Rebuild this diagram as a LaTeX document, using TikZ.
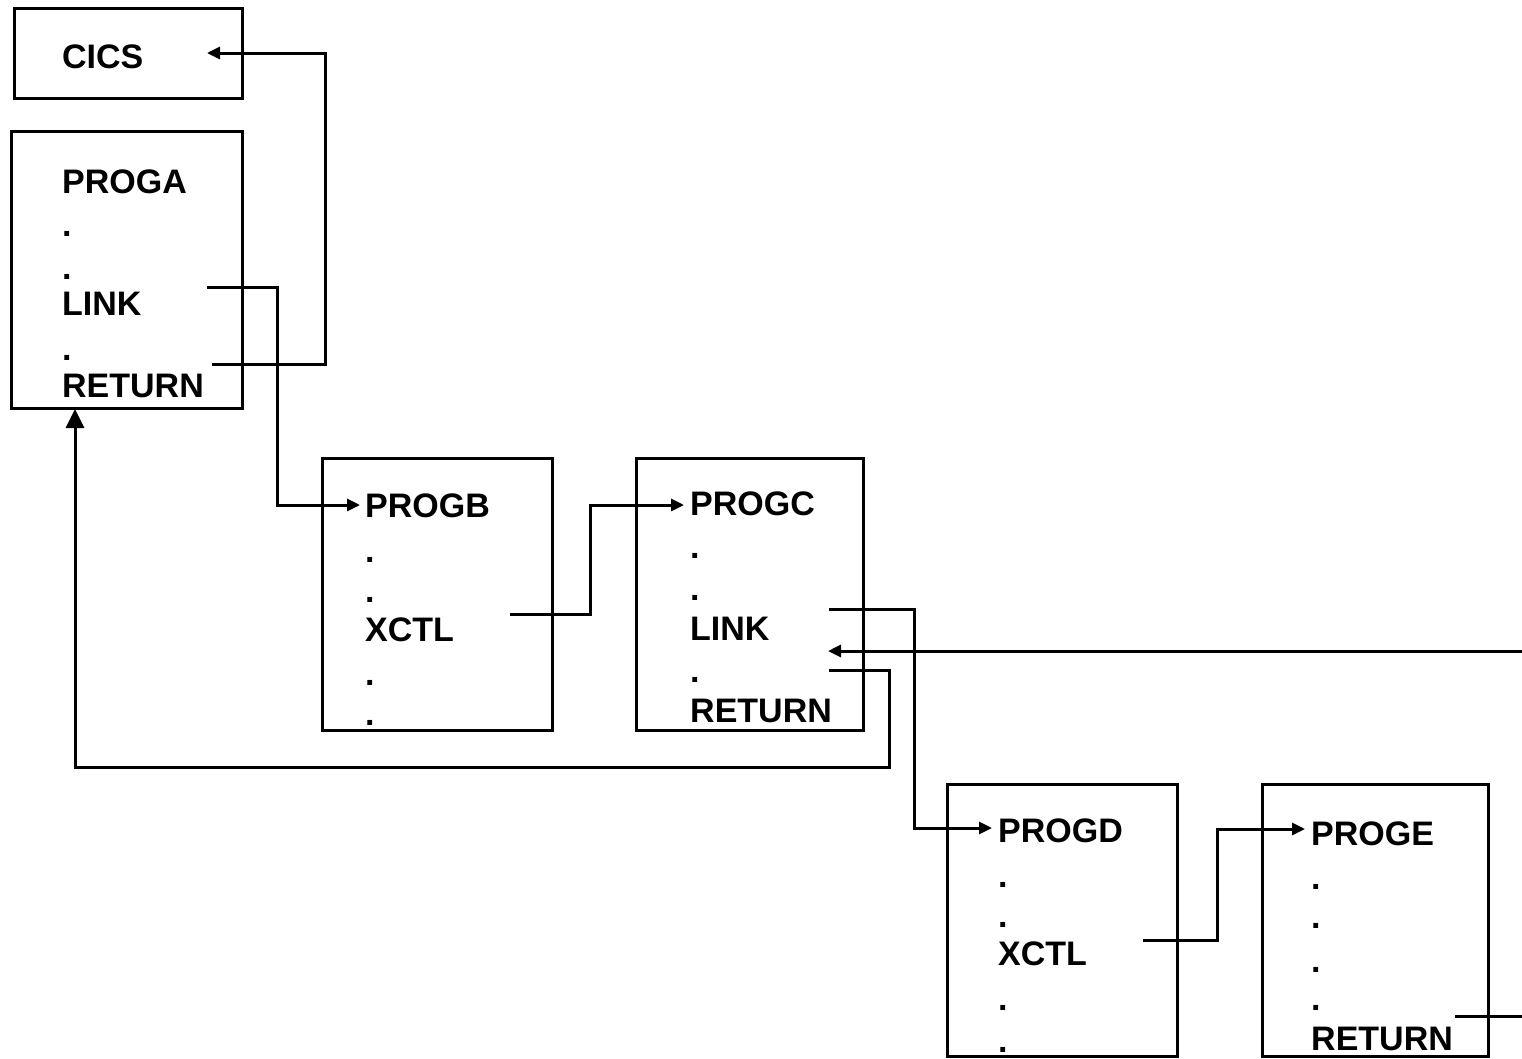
\documentclass[tikz,border=0pt]{standalone}
\usepackage{fontspec}
\setmainfont{Liberation Sans}
\usetikzlibrary{arrows.meta}
\begin{document}
\begin{tikzpicture}[x=1pt,y=-1pt,
  box/.style={draw,line width=3pt},
  lbl/.style={anchor=base west,inner sep=0pt,font=\bfseries\fontsize{34}{40}\selectfont},
  conn/.style={line width=3pt},
  tip/.style={conn,-{Triangle[length=13pt,width=12pt]}},
  bigtip/.style={conn,-{Triangle[length=19pt,width=18pt]}}]
\useasboundingbox (0,0) rectangle (1522,1058);
\fill[white] (0,0) rectangle (1522,1058);
% boxes
\draw[box] (14,8) rectangle (242,98) node[coordinate] (cicsbox) {};
\draw[box] (11,131) rectangle (242,408) node[coordinate] (progabox) {};
\draw[box] (322,458) rectangle (552,730);
\draw[box] (636,458) rectangle (863,730);
\draw[box] (947,784) rectangle (1177,1056);
\draw[box] (1262,784) rectangle (1488,1056);
% CICS
\node[lbl] (cics) at (62,68) {CICS};
% PROGA
\node[lbl] (a0) at (62,193) {PROGA};
\node[lbl] (a1) at (62,236) {.};
\node[lbl] (a2) at (62,279) {.};
\node[lbl] (a3) at (62,315) {LINK};
\node[lbl] (a4) at (62,360) {.};
\node[lbl] (a5) at (62,397) {RETURN};
% PROGB
\node[lbl] (b0) at (365,517) {PROGB};
\node[lbl] (b1) at (365,562) {.};
\node[lbl] (b2) at (365,602) {.};
\node[lbl] (b3) at (365,641) {XCTL};
\node[lbl] (b4) at (365,685) {.};
\node[lbl] (b5) at (365,725) {.};
% PROGC
\node[lbl] (c0) at (690,515) {PROGC};
\node[lbl] (c1) at (690,558) {.};
\node[lbl] (c2) at (690,600) {.};
\node[lbl] (c3) at (690,640) {LINK};
\node[lbl] (c4) at (690,682) {.};
\node[lbl] (c5) at (690,722) {RETURN};
% PROGD
\node[lbl] (d0) at (998,842) {PROGD};
\node[lbl] (d1) at (998,887) {.};
\node[lbl] (d2) at (998,927) {.};
\node[lbl] (d3) at (998,965) {XCTL};
\node[lbl] (d4) at (998,1010) {.};
\node[lbl] (d5) at (998,1052) {.};
% PROGE
\node[lbl] (e0) at (1311,845) {PROGE};
\node[lbl] (e1) at (1311,889) {.};
\node[lbl] (e2) at (1311,928) {.};
\node[lbl] (e3) at (1311,972) {.};
\node[lbl] (e4) at (1311,1010) {.};
\node[lbl] (e5) at (1311,1050) {RETURN};
% ports
\coordinate (cicsIn) at (207,53);
\coordinate (aRet) at (212,364);
\coordinate (aLink) at (207,287);
\coordinate (aBot) at (75,409);
\coordinate (bIn) at (360,505);
\coordinate (bX) at (510,614);
\coordinate (cIn) at (684,505);
\coordinate (cLink) at (829,609);
\coordinate (cBack) at (828,651);
\coordinate (cRet) at (829,670);
\coordinate (dIn) at (992,828);
\coordinate (dX) at (1143,940);
\coordinate (eIn) at (1305,829);
\coordinate (eRet) at (1455,1016);
\coordinate (rightA) at (1522,651);
\coordinate (rightB) at (1522,1016);
% connectors
\draw[tip] (aRet) -- (325,364) -- (325,53) -- (cicsIn);
\draw[tip] (aLink) -- (277,287) -- (277,505) -- (bIn);
\draw[tip] (bX) -- (590,614) -- (590,505) -- (cIn);
\draw[tip] (cLink) -- (914,609) -- (914,828) -- (dIn);
\draw[tip] (rightA) -- (cBack);
\draw[bigtip] (cRet) -- (889,670) -- (889,767) -- (75,767) -- (aBot);
\draw[tip] (dX) -- (1217,940) -- (1217,829) -- (eIn);
\draw[conn] (eRet) -- (rightB);
\end{tikzpicture}
\end{document}
